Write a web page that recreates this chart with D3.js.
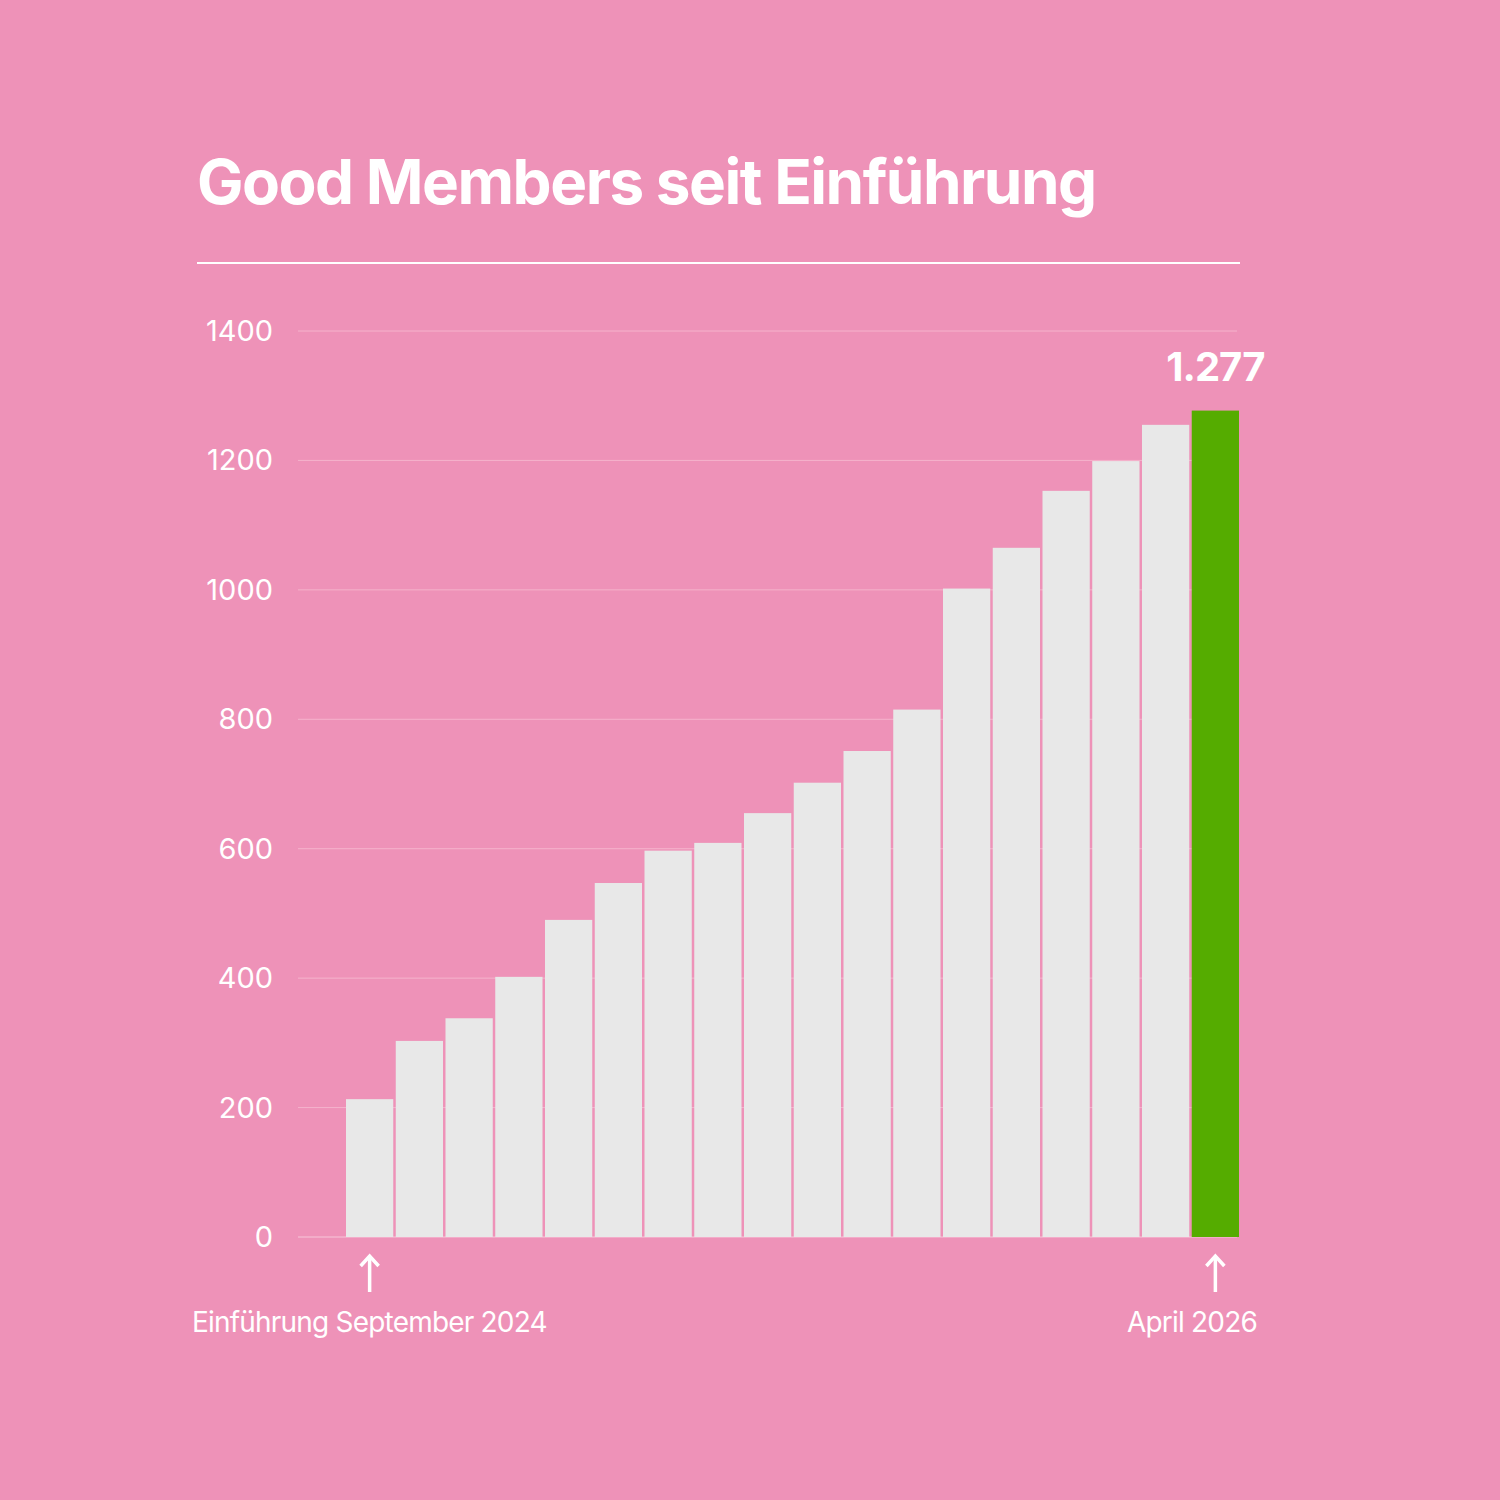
<!DOCTYPE html>
<html><head><meta charset="utf-8">
<script src="https://cdn.jsdelivr.net/npm/d3@7"></script>
<style>body{margin:0;background:#EE92B8}</style></head>
<body><svg id="c" width="1500" height="1500"></svg>
<script>
const months=["2024-09","2024-10","2024-11","2024-12","2025-01","2025-02","2025-03","2025-04","2025-05","2025-06","2025-07","2025-08","2025-09","2025-10","2025-11","2025-12","2026-01","2026-02"];
const values=[213,303,338,402,490,547,597,609,655,702,751,815,1002,1065,1153,1199,1255,1277];
const yTicks=[0,200,400,600,800,1000,1200,1400];
const title="Good Members seit Einführung";
const startLabel="Einführung September 2024", endLabel="April 2026", valueLabel="1.277";

const svg=d3.select("#c");
const font="Inter, 'DejaVu Sans', sans-serif";
svg.append("rect").attr("width",1500).attr("height",1500).attr("fill","#EE92B8");
svg.append("text").attr("x",197).attr("y",204).attr("fill","#fff").attr("font-family",font)
 .attr("font-weight",700).attr("font-size",62).attr("letter-spacing",-1.5).text(title);
svg.append("line").attr("x1",197).attr("x2",1240).attr("y1",263).attr("y2",263).attr("stroke","#fff").attr("stroke-width",2);

const y=d3.scaleLinear().domain([0,1400]).range([1237,331]);
const x=d3.scaleBand().domain(months).range([346,1239]).paddingInner(0.05);

const g=svg.append("g");
yTicks.forEach(t=>{
 g.append("line").attr("x1",298).attr("x2",1237).attr("y1",y(t)).attr("y2",y(t))
  .attr("stroke",t===0?"#f7c6d9":"#f5b3cc").attr("stroke-width",1);
 g.append("text").attr("x",273).attr("y",y(t)+10).attr("text-anchor","end").attr("fill","#fff")
  .attr("font-family",font).attr("font-size",29).text(t);
});
g.selectAll("rect.b").data(values).join("rect")
 .attr("x",(d,i)=>x(months[i])).attr("width",x.bandwidth())
 .attr("y",d=>y(d)).attr("height",d=>y(0)-y(d))
 .attr("fill",(d,i)=>i===values.length-1?"#55AC00":"#E8E8E8");

const last=months[months.length-1];
svg.append("text").attr("x",x(last)+x.bandwidth()/2).attr("y",381).attr("text-anchor","middle")
 .attr("fill","#fff").attr("font-family",font).attr("font-weight",700).attr("font-size",40).attr("letter-spacing",-1).text(valueLabel);

function arrow(cx){
 svg.append("line").attr("x1",cx).attr("x2",cx).attr("y1",1258).attr("y2",1292).attr("stroke","#fff").attr("stroke-width",3.5);
 svg.append("path").attr("d",`M${cx-9},${1266}L${cx},${1256}L${cx+9},${1266}`).attr("fill","none").attr("stroke","#fff").attr("stroke-width",3.5);
}
arrow(x(months[0])+x.bandwidth()/2);
arrow(x(last)+x.bandwidth()/2);
svg.append("text").attr("x",192).attr("y",1332).attr("fill","#fff").attr("font-family",font).attr("font-size",28).attr("letter-spacing",-0.8).text(startLabel);
svg.append("text").attr("x",1257).attr("y",1332).attr("text-anchor","end").attr("fill","#fff").attr("font-family",font).attr("font-size",28).attr("letter-spacing",-0.8).text(endLabel);
</script></body></html>
